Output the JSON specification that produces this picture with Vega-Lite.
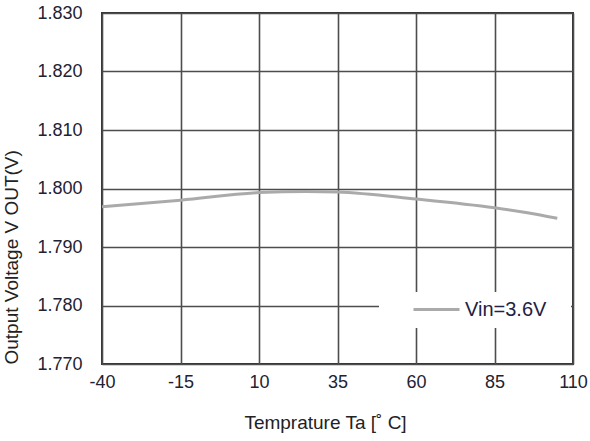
{
  "$schema": "https://vega.github.io/schema/vega-lite/v6.json",
  "width": 471,
  "height": 351,
  "autosize": {"type": "none"},
  "padding": {"left": 102, "top": 13, "right": 17, "bottom": 77},
  "background": "white",
  "config": {
    "font": "Liberation Sans",
    "view": {"stroke": "#333333", "strokeWidth": 2},
    "axis": {
      "labelFont": "Liberation Sans",
      "titleFont": "Liberation Sans",
      "labelFontSize": 18,
      "titleFontSize": 19,
      "labelColor": "#222233",
      "titleColor": "#222222",
      "titleFontWeight": "normal",
      "gridColor": "#4d4d4d",
      "gridWidth": 1.6,
      "gridOpacity": 1,
      "domain": false,
      "ticks": false
    }
  },
  "data": {
    "values": [
      {"t": -40, "v": 1.7969, "s": "Vin=3.6V"},
      {"t": -15, "v": 1.7980, "s": "Vin=3.6V"},
      {"t": 10, "v": 1.7993, "s": "Vin=3.6V"},
      {"t": 25, "v": 1.7995, "s": "Vin=3.6V"},
      {"t": 35, "v": 1.7994, "s": "Vin=3.6V"},
      {"t": 60, "v": 1.7982, "s": "Vin=3.6V"},
      {"t": 85, "v": 1.7967, "s": "Vin=3.6V"},
      {"t": 95, "v": 1.7959, "s": "Vin=3.6V"},
      {"t": 105, "v": 1.7949, "s": "Vin=3.6V"}
    ]
  },
  "mark": {"type": "line", "strokeWidth": 3, "interpolate": "monotone"},
  "encoding": {
    "x": {
      "field": "t",
      "type": "quantitative",
      "scale": {"domain": [-40, 110], "nice": false, "zero": false},
      "axis": {
        "values": [-40, -15, 10, 35, 60, 85, 110],
        "labelExpr": "replace(datum.label, '−', '-')",
        "title": "Temprature Ta [˚    C]",
        "titleX": 223,
        "titleAlign": "center",
        "labelPadding": 9,
        "titlePadding": 22,
        "labelFlush": false
      }
    },
    "y": {
      "field": "v",
      "type": "quantitative",
      "scale": {"domain": [1.77, 1.83], "nice": false, "zero": false},
      "axis": {
        "values": [1.77, 1.78, 1.79, 1.8, 1.81, 1.82, 1.83],
        "format": ".3f",
        "title": "Output Voltage V OUT(V)",
        "titleAnchor": "start",
        "labelPadding": 20,
        "titlePadding": 15,
        "labelFlush": false
      }
    },
    "color": {
      "field": "s",
      "type": "nominal",
      "scale": {"range": ["#aaaaaa"]},
      "legend": {
        "orient": "none",
        "legendX": 277,
        "legendY": 279,
        "title": " ",
        "titleOrient": "right",
        "titlePadding": 17,
        "titleFontSize": 18,
        "fillColor": "white",
        "padding": 8,
        "clipHeight": 19,
        "symbolType": "stroke",
        "symbolSize": 2116,
        "symbolStrokeWidth": 3,
        "symbolOffset": 25,
        "labelFont": "Liberation Sans",
        "labelFontSize": 20,
        "labelColor": "#222244",
        "labelOffset": 4
      }
    }
  }
}
